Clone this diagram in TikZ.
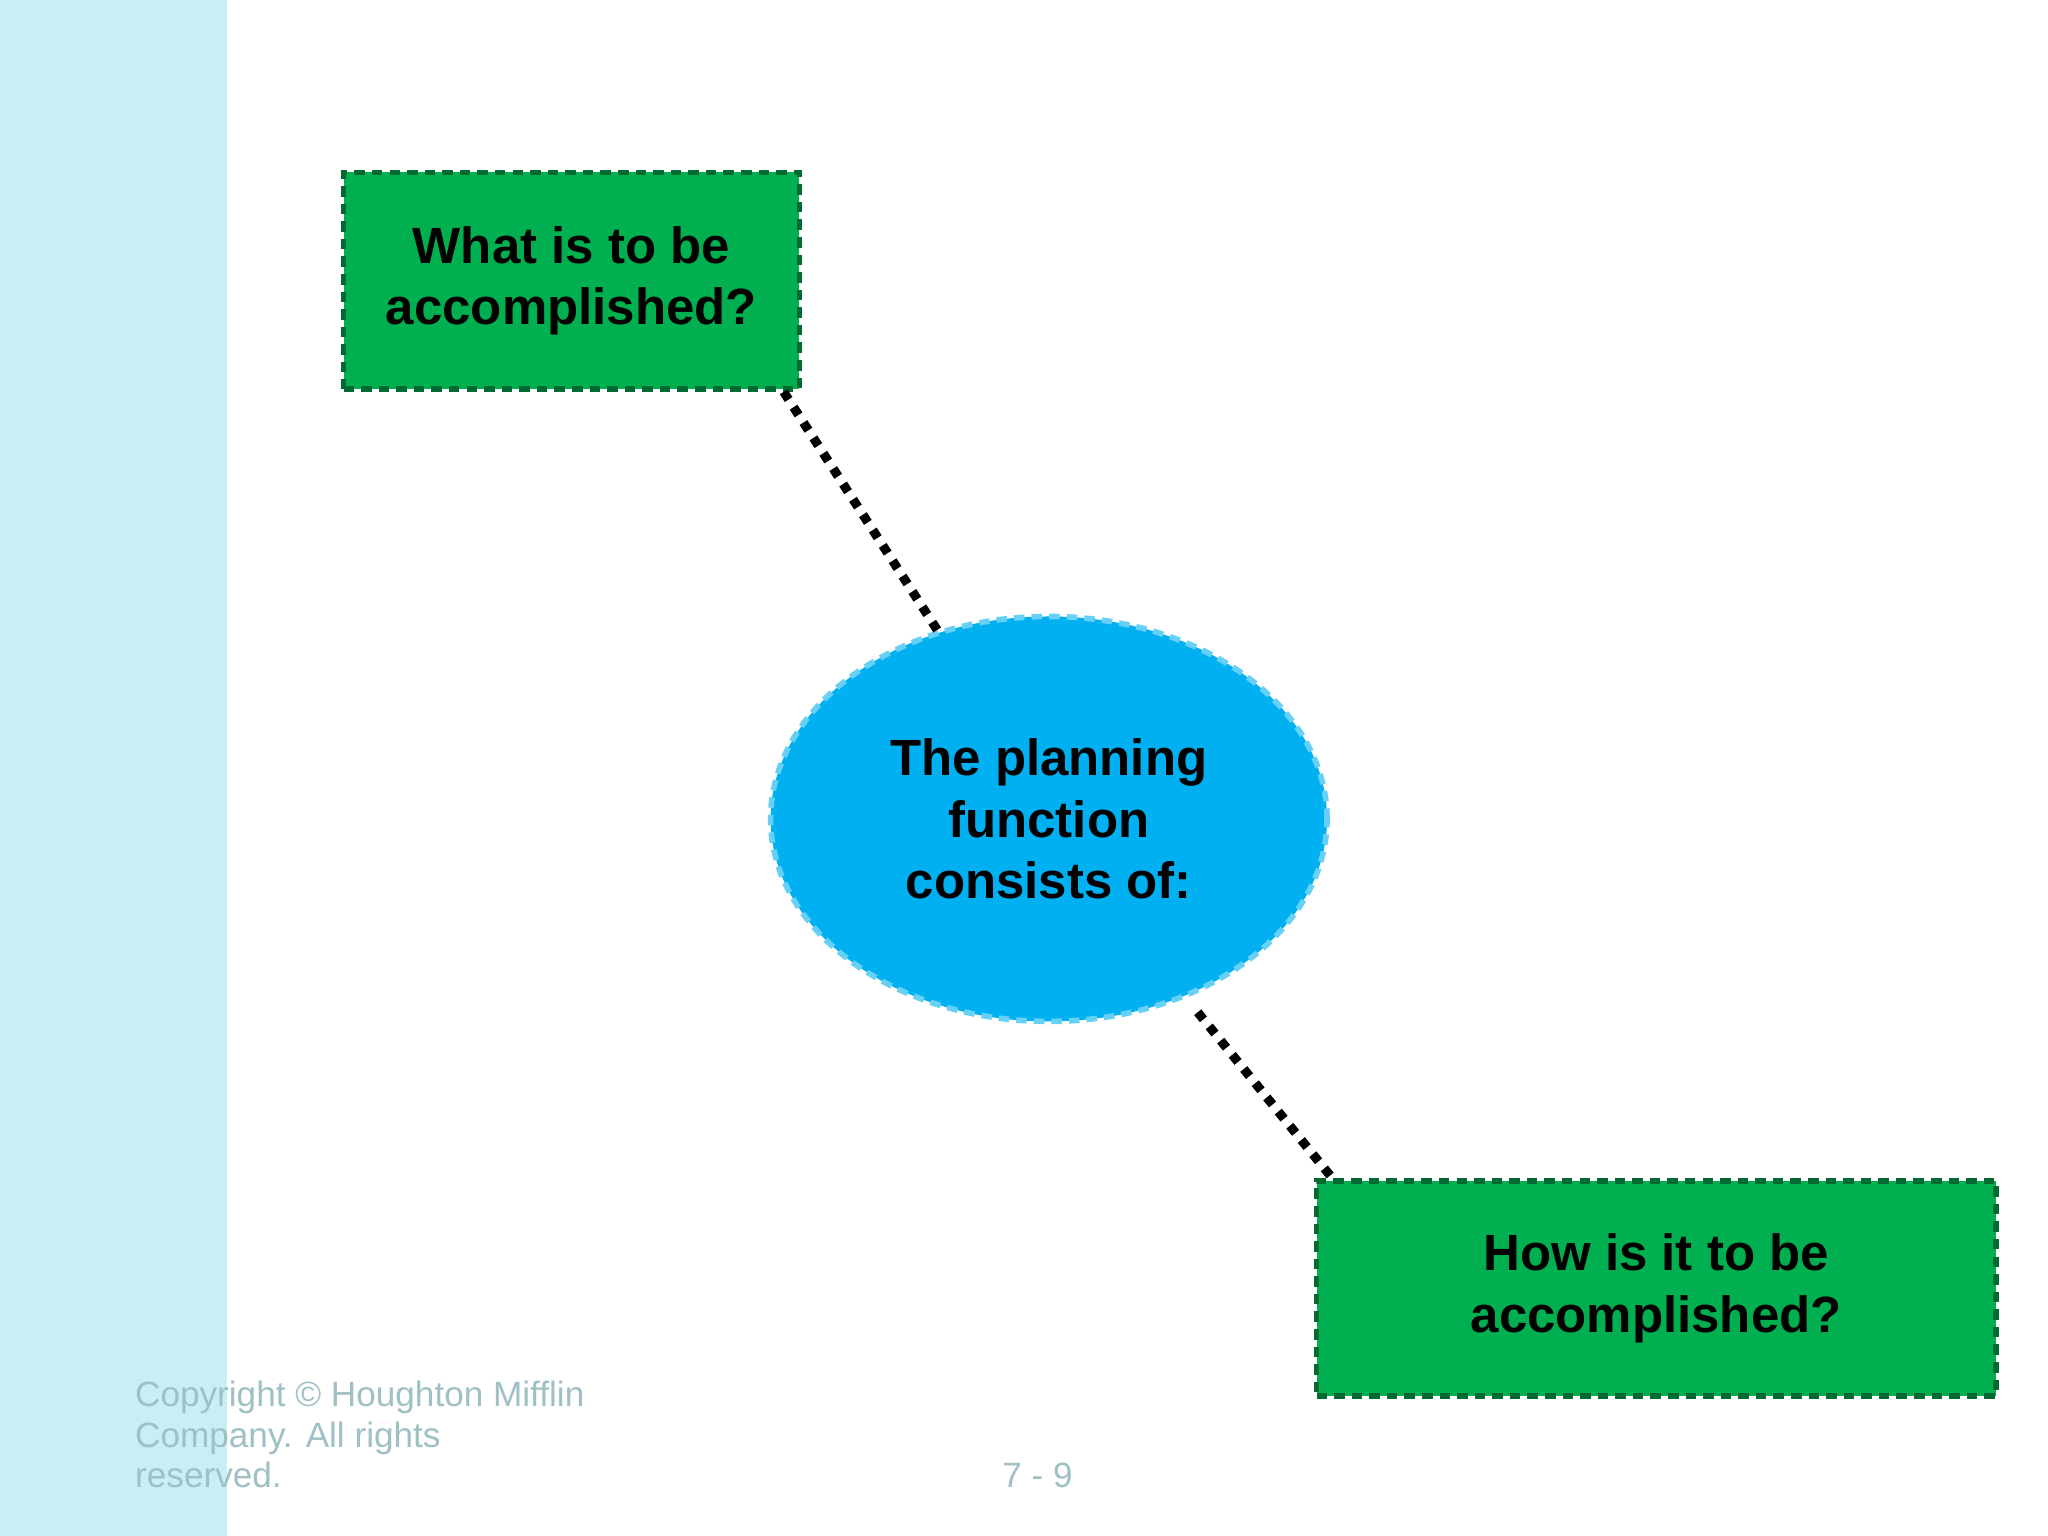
\documentclass[tikz,border=0pt]{standalone}
\usepackage{fontspec}
\setmainfont{Liberation Sans}
\usetikzlibrary{shapes.geometric}
\definecolor{strip}{HTML}{C8F0F4}
\definecolor{gbox}{HTML}{00B050}
\definecolor{bell}{HTML}{00B0F0}
\definecolor{foot}{HTML}{9FC0C4}
\tikzset{
 qbox/.style={draw=gbox!60!black, line width=1.6pt, dash pattern=on 3pt off 2pt, fill=gbox, align=center, font=\fontsize{14.5}{17.5}\selectfont\bfseries, inner sep=0pt},
 link/.style={line width=2.6pt, dash pattern=on 2.6pt off 2.6pt},
 foottext/.style={text=foot, font=\fontsize{10}{12}\selectfont, anchor=base west}
}
\begin{document}
\begin{tikzpicture}[x=0.013061cm,y=-0.013061cm]
\useasboundingbox (0,0) rectangle (1568,1176);
\fill[white] (0,0) rectangle (1568,1176);
\fill[strip] (0,0) rectangle (174,1176);
\node[qbox, minimum width=349*0.13061mm, minimum height=166*0.13061mm] (what) at (437.5,215) {What is to be\\accomplished?};
\node[qbox, minimum width=520*0.13061mm, minimum height=165*0.13061mm] (how) at (1268,986.5) {How is it to be\\accomplished?};
\node[ellipse, draw=bell!60!white, line width=1.6pt, dash pattern=on 3pt off 2pt, fill=bell, minimum width=426*0.13061mm, minimum height=310*0.13061mm, inner sep=0pt, align=center, font=\fontsize{14.5}{17.5}\selectfont\bfseries] (plan) at (803,627) {The planning\\function\\consists of:};
\coordinate (a1) at (600,300); \coordinate (a2) at (718,483);
\coordinate (b1) at (917,775); \coordinate (b2) at (1020,902);
\draw[link] (a1) -- (a2);
\draw[link] (b1) -- (b2);
\node[foottext] (c1) at (94,1077) {Copyright © Houghton Mifflin};
\node[foottext] (c2) at (94,1108) {Company. All rights};
\node[foottext] (c3) at (94,1139) {reserved.};
\node[foottext] (pg) at (758,1139) {7 - 9};
\end{tikzpicture}
\end{document}
